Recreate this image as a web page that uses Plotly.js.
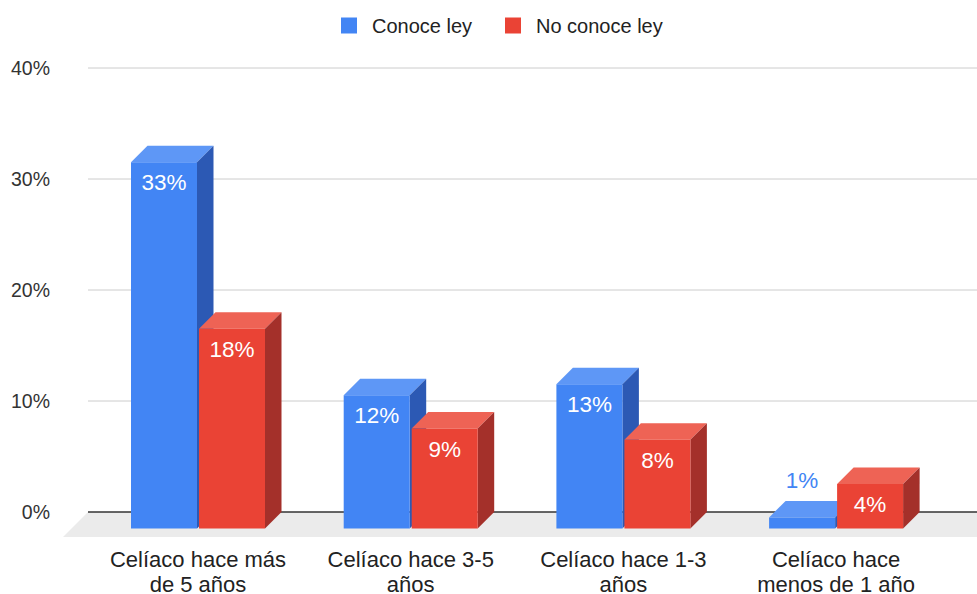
<!DOCTYPE html>
<html>
<head>
<meta charset="utf-8">
<script src="https://cdn.plot.ly/plotly-3.0.1.min.js"></script>
<style>
  html, body { margin: 0; padding: 0; background: #ffffff; }
  #chart { width: 977px; height: 594px; }
</style>
</head>
<body>
<div id="chart"></div>
<script>
// ---- data ----
const categoryLine1 = ["Celíaco hace más", "Celíaco hace 3-5", "Celíaco hace 1-3", "Celíaco hace"];
const categoryLine2 = ["de 5 años", "años", "años", "menos de 1 año"];
const seriesNames = ["Conoce ley", "No conoce ley"];
const conoceLey = [0.33, 0.12, 0.13, 0.01];
const noConoceLey = [0.18, 0.09, 0.08, 0.04];
const yTickValues = [0, 0.1, 0.2, 0.3, 0.4];

// ---- geometry of the pseudo-3D view (pixels) ----
const W = 977, H = 594;
const M = { l: 60, r: 0, t: 60, b: 54 };
const PX_PER_CAT = 212.7;     // horizontal distance between categories
const PX_PER_UNIT = 1110;     // vertical pixels for 100%
const CAT0_PX = 214.5;        // back-plane centre of the first category
const ZERO_PX = 512;          // back-plane 0% line
const GRID_LEFT_PX = 88;      // where the back wall starts
const DEPTH_PX = 16.5;        // bar depth
const FLOOR_DEPTH_PX = 25;    // floor depth
const BAR_W_PX = 66;
const BAR_OFF_PX = 34;
const LEGEND_LEFT_PX = [326, 490];

const xRange = [(M.l - CAT0_PX) / PX_PER_CAT, (W - M.r - CAT0_PX) / PX_PER_CAT];
const yRange = [(ZERO_PX - (H - M.b)) / PX_PER_UNIT, (ZERO_PX - M.t) / PX_PER_UNIT];

const DX = -DEPTH_PX / PX_PER_CAT;
const DY = -DEPTH_PX / PX_PER_UNIT;
const FDX = -FLOOR_DEPTH_PX / PX_PER_CAT;
const FDY = -FLOOR_DEPTH_PX / PX_PER_UNIT;
const BW = BAR_W_PX / PX_PER_CAT;
const BOFF = BAR_OFF_PX / PX_PER_CAT;
const gridLeft = (GRID_LEFT_PX - CAT0_PX) / PX_PER_CAT;
const farRight = xRange[1] + 0.3;

const FONT = "'Liberation Sans', Arial, sans-serif";

const series = [
  { name: seriesNames[0], values: conoceLey, offset: -BOFF, legend: "legend",
    front: "#4285F4", top: "#5E97F6", side: "#2C59B4" },
  { name: seriesNames[1], values: noConoceLey, offset: BOFF, legend: "legend2",
    front: "#EA4335", top: "#EE6355", side: "#A4302A" }
];

const shapes = [];
// back-wall grid lines
yTickValues.filter(v => v > 0).forEach(v => {
  shapes.push({ type: "line", layer: "below", xref: "x", yref: "y",
    x0: gridLeft, x1: farRight, y0: v, y1: v,
    line: { color: "#CCCCCC", width: 1 } });
});
// floor
shapes.push({ type: "path", layer: "below", xref: "x", yref: "y",
  path: `M${gridLeft},0 L${farRight},0 L${farRight + FDX},${FDY} L${gridLeft + FDX},${FDY} Z`,
  fillcolor: "#EBEBEB", line: { width: 0 } });
shapes.push({ type: "line", layer: "below", xref: "x", yref: "y",
  x0: gridLeft, x1: farRight, y0: 0, y1: 0,
  line: { color: "#333333", width: 1.5 } });

// top and side faces of every bar
series.forEach(s => {
  s.values.forEach((v, i) => {
    const xl = i + s.offset - BW / 2, xr = i + s.offset + BW / 2;
    shapes.push({ type: "path", layer: "below", xref: "x", yref: "y",
      path: `M${xl + DX},${v + DY} L${xr + DX},${v + DY} L${xr},${v} L${xl},${v} Z`,
      fillcolor: s.top, line: { width: 0 } });
    shapes.push({ type: "path", layer: "below", xref: "x", yref: "y",
      path: `M${xr + DX},${DY} L${xr},0 L${xr},${v} L${xr + DX},${v + DY} Z`,
      fillcolor: s.side, line: { width: 0 } });
  });
});

const traces = [];
// front faces
series.forEach(s => {
  traces.push({
    type: "bar",
    x: s.values.map((v, i) => i + s.offset + DX),
    y: s.values,
    base: s.values.map(() => DY),
    width: BW,
    marker: { color: s.front, line: { width: 0 } },
    showlegend: false,
    hoverinfo: "skip"
  });
});
// value labels
series.forEach(s => {
  traces.push({
    type: "scatter",
    mode: "text",
    x: s.values.map((v, i) => i + s.offset + DX),
    y: s.values.map(v => v < 0.03 ? v + 19 / PX_PER_UNIT : v + DY - 22.5 / PX_PER_UNIT),
    text: s.values.map(v => Math.round(v * 100) + "%"),
    textposition: "middle center",
    textfont: { family: FONT, size: 22.5, color: s.values.map(v => v < 0.03 ? s.front : "#FFFFFF") },
    showlegend: false,
    hoverinfo: "skip",
    cliponaxis: false
  });
});
// legend entries (placed on the second x axis that carries the second label line)
series.forEach(s => {
  traces.push({
    type: "scatter", mode: "markers", name: s.name, legend: s.legend,
    x: [null], y: [null], xaxis: "x2",
    marker: { symbol: "square", size: 16, color: s.front, line: { width: 0 } },
    hoverinfo: "skip"
  });
});

const xCommon = {
  range: xRange, showgrid: false, zeroline: false, showline: false,
  tickmode: "array",
  tickvals: categoryLine1.map((c, i) => i + DX),
  ticks: "",
  tickfont: { family: FONT, size: 22, color: "#222222" },
  fixedrange: true
};

const legendCommon = {
  orientation: "h", xref: "container", yref: "container",
  xanchor: "left", y: 1 - 6 / H, yanchor: "top",
  font: { family: FONT, size: 20, color: "#222222" },
  itemsizing: "trace", itemwidth: 36,
  bgcolor: "rgba(0,0,0,0)"
};

const layout = {
  width: W, height: H,
  margin: M,
  paper_bgcolor: "#ffffff",
  plot_bgcolor: "rgba(0,0,0,0)",
  barmode: "overlay",
  font: { family: FONT, color: "#222222" },
  showlegend: true,
  legend: Object.assign({}, legendCommon, { x: LEGEND_LEFT_PX[0] / W }),
  legend2: Object.assign({}, legendCommon, { x: LEGEND_LEFT_PX[1] / W }),
  xaxis: Object.assign({}, xCommon, { ticktext: categoryLine1, ticklabelstandoff: 4 }),
  xaxis2: Object.assign({}, xCommon, {
    ticktext: categoryLine2, ticklabelstandoff: 29,
    overlaying: "x", anchor: "y", side: "bottom"
  }),
  yaxis: {
    range: yRange, showgrid: false, zeroline: false, showline: false,
    tickmode: "array", tickvals: yTickValues,
    ticktext: yTickValues.map(v => Math.round(v * 100) + "%"),
    ticks: "", ticklabelstandoff: 9,
    tickfont: { family: FONT, size: 19.5, color: "#333333" },
    fixedrange: true
  },
  shapes: shapes
};

Plotly.newPlot("chart", traces, layout, { staticPlot: true, displayModeBar: false });
</script>
</body>
</html>
